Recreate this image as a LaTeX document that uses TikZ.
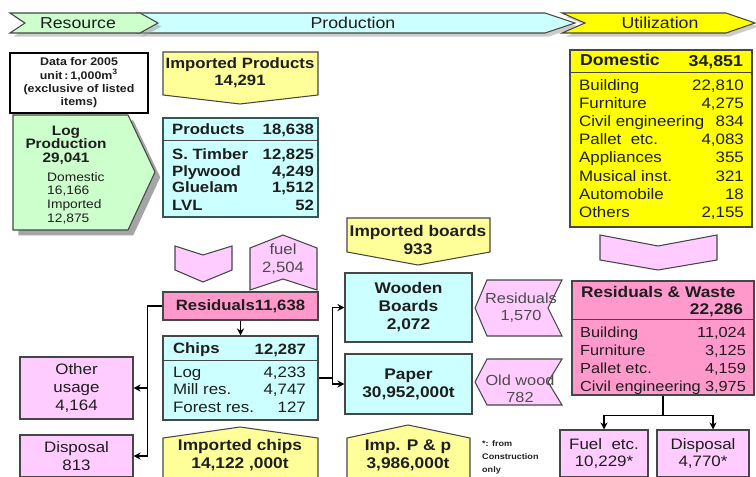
\documentclass[tikz,border=0pt]{standalone}
\usepackage{fontspec}
\setmainfont{Liberation Sans}[FakeStretch=1.12]
\usetikzlibrary{arrows.meta,shadows}

\definecolor{resgreen}{RGB}{204,255,204}
\definecolor{prodcyan}{RGB}{204,255,255}
\definecolor{impyellow}{RGB}{255,255,153}
\definecolor{useyellow}{RGB}{255,255,0}
\definecolor{lightpink}{RGB}{255,204,255}
\definecolor{hotpink}{RGB}{255,153,204}
\definecolor{edge}{RGB}{70,70,70}
\definecolor{ink}{RGB}{30,30,30}

\newcommand{\unitpx}{0.02cm}

\tikzset{
  box/.style={draw=edge, line width=0.6pt, inner sep=0pt, text=ink},
  sizedbox/.style 2 args={box, minimum width=#1*\unitpx, minimum height=#2*\unitpx},
  shade/.style={drop shadow={shadow xshift=2pt, shadow yshift=-2pt, fill=gray!80}},
  bandtext/.style={font=\fontsize{9}{10}\selectfont, text=ink},
  rowtext/.style={font=\fontsize{8.6}{10.2}\selectfont, text=ink, inner sep=1pt},
  rowbold/.style={font=\fontsize{8.5}{10}\selectfont\bfseries, text=ink, inner sep=1pt},
  bigbold/.style={font=\fontsize{8.8}{10.2}\selectfont\bfseries, text=ink, align=center},
  link/.style={draw=black, line width=0.9pt, -{Stealth[length=4pt,width=4pt]}}
}

\begin{document}
\begin{tikzpicture}[x=0.02cm,y=-0.02cm]
  \useasboundingbox (0,0) rectangle (756,476);

  % Header band
  \draw[box, fill=prodcyan, shade] (138,13) -- (545,13) -- (575,23) -- (545,33) -- (138,33) -- (153,23) -- cycle;
  \draw[box, fill=resgreen, shade] (10,13) -- (140,13) -- (158,23) -- (140,33) -- (10,33) -- (25,23) -- cycle;
  \draw[box, fill=useyellow, shade] (562,13) -- (726,13) -- (755,23) -- (726,33) -- (562,33) -- (585,23) -- cycle;
  \node[bandtext] (resource) at (78,23) {Resource};
  \node[bandtext] (production) at (353,23) {Production};
  \node[bandtext] (utilization) at (660,23) {Utilization};

  % Resource column
  \node[sizedbox={138}{60}, fill=white, draw=black, align=center,
        font=\fontsize{6.3}{7.6}\selectfont\bfseries] (data) at (79,83)
    {Data for 2005\\unit\,:\,1,000m\textsuperscript{3}\\(exclusive of listed\\items)};
  \draw[box, fill=resgreen, drop shadow={shadow xshift=3pt, shadow yshift=-3pt, fill=gray!60!black}]
    (13,115) -- (128,115) -- (155,172) -- (128,230) -- (13,230) -- cycle;
  \node[align=center, font=\fontsize{7.8}{7.6}\selectfont\bfseries, text=ink] (logprod) at (66,145) {Log\\Production\\29,041};
  \node[anchor=north west, align=left, font=\fontsize{7}{7.8}\selectfont, text=ink] (logsplit) at (41,166) {Domestic\\16,166\\Imported\\12,875};

  % Products
  \draw[box, fill=impyellow] (163,52) -- (318,52) -- (318,95) -- (240,104) -- (163,95) -- cycle;
  \node[bigbold, font=\fontsize{8.5}{9.6}\selectfont\bfseries] (impprod) at (240,73) {Imported Products\\14,291};
  \node[sizedbox={155}{99}, fill=prodcyan, draw=edge!70!teal] (products) at (240.5,167.5) {};
  \draw[edge] (163,140) -- (318,140);
  \node[anchor=base west, rowbold] (prod-h) at (170,134) {Products};
  \node[anchor=base east, rowbold] (prod-hv) at (316,134) {18,638};
  \foreach \name/\val [count=\i] in {S. Timber/{12,825}, Plywood/{4,249}, Gluelam/{1,512}, LVL/52}{
    \node[anchor=base west, rowbold] (prod-l\i) at (170,{142+17*\i}) {\name};
    \node[anchor=base east, rowbold] (prod-v\i) at (316,{142+17*\i}) {\val};
  }

  % Residuals and chips
  \draw[box, fill=lightpink] (175,246) -- (203,255) -- (232,246) -- (232,270) -- (203,282) -- (175,270) -- cycle;
  \draw[box, fill=lightpink] (250,248) -- (283,235) -- (317,248) -- (317,290) -- (283,279) -- (250,290) -- cycle;
  \node[align=center, font=\fontsize{8.5}{10}\selectfont, text=gray!60!black] (fuel) at (283,259) {fuel\\2,504};
  \node[sizedbox={155}{28}, fill=hotpink, rowbold] (resid) at (240.5,306) {Residuals11,638};
  \node[sizedbox={155}{84}, fill=prodcyan] (chips) at (240.5,378) {};
  \draw[edge] (163,360) -- (318,360);
  \node[anchor=base west, rowbold] (chips-h) at (171,353) {Chips};
  \node[anchor=base east, rowbold] (chips-hv) at (308,354) {12,287};
  \foreach \name/\val [count=\i] in {Log/{4,233}, Mill res./{4,747}, Forest res./127}{
    \node[anchor=base west, rowtext] (chips-l\i) at (171,{359.5+17.5*\i}) {\name};
    \node[anchor=base east, rowtext] (chips-v\i) at (308,{359.5+17.5*\i}) {\val};
  }

  % Left outputs
  \node[sizedbox={113}{62}, fill=lightpink, align=center, rowtext, inner sep=0pt] (other) at (76.5,388) {Other\\usage\\4,164};
  \node[sizedbox={113}{42}, fill=lightpink, align=center, rowtext, inner sep=0pt] (displeft) at (76.5,456) {Disposal\\813};

  % Imported inputs at the bottom
  \draw[box, fill=impyellow] (163,438) -- (240,427) -- (318,438) -- (318,480) -- (163,480) -- cycle;
  \node[bigbold] (impchips) at (240,455) {Imported chips\\14,122 ,000t};
  \draw[box, fill=impyellow] (347,438) -- (408,425) -- (470,438) -- (470,480) -- (347,480) -- cycle;
  \node[bigbold] (imppp) at (408,455) {Imp. P \& p\\3,986,000t};
  \node[anchor=north west, align=left, font=\fontsize{4.6}{7.6}\selectfont\bfseries, text=ink] (note) at (476,434) {*: from\\Construction\\only};

  % Boards and paper
  \draw[box, fill=impyellow] (347,218) -- (490,218) -- (490,252) -- (418,265) -- (347,252) -- cycle;
  \node[bigbold] (impboards) at (418,240) {Imported boards\\933};
  \node[sizedbox={127}{69}, fill=prodcyan, bigbold] (boards) at (408.5,307.5) {Wooden\\Boards\\2,072};
  \node[sizedbox={127}{60}, fill=prodcyan, bigbold] (paper) at (408.5,384) {Paper\\30,952,000t};
  \draw[box, fill=lightpink] (475,308) -- (487,280) -- (562,280) -- (548,308) -- (562,336) -- (487,336) -- cycle;
  \node[align=center, font=\fontsize{8.3}{9.6}\selectfont, text=gray!60!black] (resid2) at (521,308) {Residuals\\1,570};
  \draw[box, fill=lightpink] (475,382) -- (487,359) -- (562,359) -- (548,382) -- (562,405) -- (487,405) -- cycle;
  \node[align=center, font=\fontsize{8.3}{9.6}\selectfont, text=gray!60!black] (oldwood) at (520,389) {Old wood\\782};

  % Utilization
  \node[sizedbox={182}{177}, fill=useyellow] (domestic) at (661,138.5) {};
  \draw[edge] (570,72) -- (752,72);
  \node[anchor=base west, rowbold, font=\fontsize{9}{10}\selectfont\bfseries] (dom-h) at (578,66) {Domestic};
  \node[anchor=base east, rowbold, font=\fontsize{9}{10}\selectfont\bfseries] (dom-hv) at (745,67) {34,851};
  \foreach \name/\val [count=\i] in {Building/{22,810}, Furniture/{4,275}, Civil engineering/834,
      Pallet\ \ etc./{4,083}, Appliances/355, Musical inst./321, Automobile/18, Others/{2,155}}{
    \node[anchor=base west, rowtext] (dom-l\i) at (577,{73+18*\i}) {\name};
    \node[anchor=base east, rowtext] (dom-v\i) at (746,{73+18*\i}) {\val};
  }
  \draw[box, fill=lightpink] (600,235) -- (658,246) -- (717,235) -- (717,260) -- (658,270) -- (600,260) -- cycle;

  \node[sizedbox={182}{114}, fill=hotpink] (waste) at (663,338) {};
  \draw[edge] (572,319) -- (754,319);
  \node[anchor=base west, rowbold, font=\fontsize{8.8}{10}\selectfont\bfseries] (waste-h) at (579,297) {Residuals \& Waste};
  \node[anchor=base east, rowbold, font=\fontsize{8.8}{10}\selectfont\bfseries] (waste-hv) at (745,314) {22,286};
  \foreach \name/\val [count=\i] in {Building/{11,024}, Furniture/{3,125}, Pallet etc./{4,159}, Civil engineering/{3,975}}{
    \node[anchor=base west, rowtext, font=\fontsize{8.3}{10}\selectfont] (waste-l\i) at (578,{319+18*\i}) {\name};
    \node[anchor=base east, rowtext, font=\fontsize{8.3}{10}\selectfont] (waste-v\i) at (748,{319+18*\i}) {\val};
  }
  \node[sizedbox={88}{47}, fill=lightpink, align=center, rowtext, inner sep=0pt] (fuelbox) at (604,453.5) {Fuel\ \ etc.\\10,229*};
  \node[sizedbox={92}{47}, fill=lightpink, align=center, rowtext, inner sep=0pt] (dispright) at (703,453.5) {Disposal\\4,770*};

  % Connectors
  \draw[link, -] (resid.west) -- ++(-15,0) coordinate (lsplit);
  \draw[link] (lsplit) |- (other.east);
  \draw[link] (lsplit) |- (displeft.east);
  \draw[link] (resid.south) -- (chips.north);
  \draw[link, -] (chips.east) -- ++(14,0) coordinate (csplit);
  \draw[link] (csplit) |- (boards.west);
  \draw[link] (csplit) |- (paper.west);
  \draw[link, -] (waste.south) -- ++(0,20) coordinate (wsplit);
  \draw[link] (wsplit) -| (fuelbox.north);
  \draw[link] (wsplit) -| ([xshift=0.2cm]dispright.north);
\end{tikzpicture}
\end{document}
